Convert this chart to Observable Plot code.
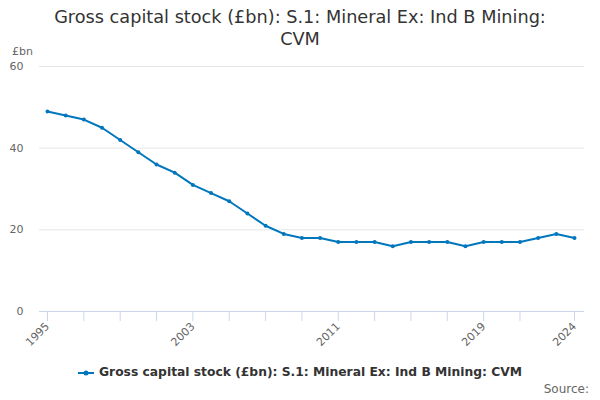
<!DOCTYPE html>
<html>
<head>
<meta charset="utf-8">
<script src="https://cdn.jsdelivr.net/npm/d3@7"></script>
<script src="https://cdn.jsdelivr.net/npm/@observablehq/plot@0.6"></script>
<style>
  body { margin: 0; background: #fff; font-family: "DejaVu Sans", sans-serif; }
  #wrap { position: relative; width: 600px; height: 400px; overflow: hidden; }
  #title { position: absolute; top: 6px; left: 50px; width: 500px; text-align: center; font-size: 17.7px; line-height: 22px; color: #333; }
  #unit { position: absolute; top: 45px; left: 12px; font-size: 11px; color: #666; }
  #chart { position: absolute; top: 40px; left: 0; }
  #legend { position: absolute; top: 365px; left: 0; width: 600px; text-align: center; font-size: 12.3px; font-weight: bold; color: #333; }
  #legend svg { vertical-align: middle; margin-right: 5px; }
  #source { position: absolute; top: 382px; right: 11px; font-size: 12px; color: #666; }
</style>
</head>
<body>
<div id="wrap">
  <div id="title">Gross capital stock (£bn): S.1: Mineral Ex: Ind B Mining: CVM</div>
  <div id="unit">£bn</div>
  <div id="chart"></div>
  <div id="legend"></div>
  <div id="source">Source:</div>
</div>
<script>
const seriesName = "Gross capital stock (£bn): S.1: Mineral Ex: Ind B Mining: CVM";
const years = d3.range(1995, 2025);
const values = [49, 48, 47, 45, 42, 39, 36, 34, 31, 29, 27, 24, 21, 19, 18, 18, 17, 17, 17, 16, 17, 17, 17, 16, 17, 17, 17, 18, 19, 18];
const yTicks = [0, 20, 40, 60];
const xTicks = [1995, 1997, 1999, 2001, 2003, 2005, 2007, 2009, 2011, 2013, 2015, 2017, 2019, 2021, 2024];
const xTickLabels = [1995, 2003, 2011, 2019, 2024];

const data = years.map((y, i) => ({year: y, value: values[i]}));
const color = "#0076bd";

const plot = Plot.plot({
  width: 600,
  height: 310,
  marginTop: 26,
  marginBottom: 39,
  marginLeft: 39,
  marginRight: 16,
  style: {fontFamily: "DejaVu Sans, sans-serif", fontSize: "11px", color: "#666", background: "transparent", overflow: "visible"},
  x: {type: "linear", domain: [1995, 2024], range: [47, 574]},
  y: {domain: [0, 60]},
  marks: [
    Plot.ruleY(yTicks.filter(d => d > 0), {stroke: "#e6e6e6", strokeWidth: 1}),
    Plot.axisY({ticks: yTicks, tickSize: 0, tickPadding: 16, label: null, fill: "#666"}),
    Plot.ruleY([0], {stroke: "#ccd6eb", strokeWidth: 1}),
    Plot.axisX({ticks: xTicks, tickSize: 10, tickPadding: 3, stroke: "#ccd6eb", strokeOpacity: 1,
      tickRotate: -45, label: null, fill: "#666",
      tickFormat: d => xTickLabels.includes(d) ? String(d) : ""}),
    Plot.line(data, {x: "year", y: "value", stroke: color, strokeWidth: 2}),
    Plot.dot(data, {x: "year", y: "value", fill: color, r: 2})
  ]
});
document.getElementById("chart").appendChild(plot);

const leg = document.getElementById("legend");
leg.innerHTML = `<svg width="16" height="10"><line x1="0" x2="16" y1="5" y2="5" stroke="${color}" stroke-width="2"/><circle cx="8" cy="5" r="2.5" fill="${color}"/></svg>` + seriesName;
</script>
</body>
</html>
